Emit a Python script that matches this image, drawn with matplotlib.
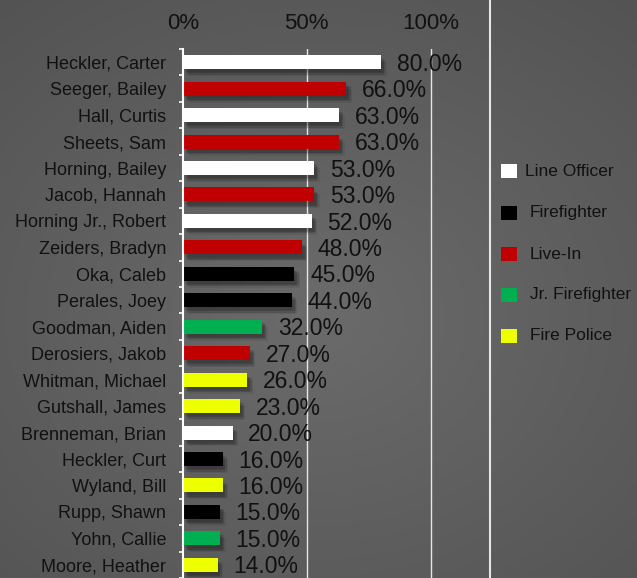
import numpy as np
import matplotlib.pyplot as plt
import matplotlib.patheffects as pe
from matplotlib.patches import Rectangle
from matplotlib.lines import Line2D

names = ["Heckler, Carter", "Seeger, Bailey", "Hall, Curtis", "Sheets, Sam",
         "Horning, Bailey", "Jacob, Hannah", "Horning Jr., Robert", "Zeiders, Bradyn",
         "Oka, Caleb", "Perales, Joey", "Goodman, Aiden", "Derosiers, Jakob",
         "Whitman, Michael", "Gutshall, James", "Brenneman, Brian", "Heckler, Curt",
         "Wyland, Bill", "Rupp, Shawn", "Yohn, Callie", "Moore, Heather"]
values = [80, 66, 63, 63, 53, 53, 52, 48, 45, 44, 32, 27, 26, 23, 20, 16, 16, 15, 15, 14]
roles = ["Line Officer", "Live-In", "Line Officer", "Live-In", "Line Officer", "Live-In",
         "Line Officer", "Live-In", "Firefighter", "Firefighter", "Jr. Firefighter",
         "Live-In", "Fire Police", "Fire Police", "Line Officer", "Firefighter",
         "Fire Police", "Firefighter", "Jr. Firefighter", "Fire Police"]
role_names = ["Line Officer", "Firefighter", "Live-In", "Jr. Firefighter", "Fire Police"]
role_colors = ["#ffffff", "#000000", "#c00000", "#00b050", "#eeff00"]
x_ticks = [0, 50, 100]

plt.rcParams['font.family'] = ['Liberation Sans', 'DejaVu Sans']
txt = "#111111"

fig = plt.figure(figsize=(6.37, 5.78), dpi=100)

# gray radial gradient background
bg = fig.add_axes([0, 0, 1, 1])
yy, xx = np.mgrid[0:1:300j, 0:1:300j]
r = np.sqrt((xx - 0.5) ** 2 + ((yy - 0.45) * 1.1) ** 2)
g = np.clip(0.42 - 0.12 * r, 0, 1)
bg.imshow(np.dstack([g, g, g]), extent=[0, 1, 0, 1], aspect="auto", origin="lower")
bg.set_axis_off()
bg.add_line(Line2D([490 / 637, 490 / 637], [0, 1], color="#e6e6e6", lw=1.5))

ax = fig.add_axes([183 / 637, 0, (490 - 183) / 637, 1 - 49 / 578])
ax.patch.set_alpha(0)
cmap = dict(zip(role_names, role_colors))
y = np.arange(len(names))
bars = ax.barh(y, values, height=0.53, color=[cmap[r] for r in roles], zorder=3)
shadow = [pe.SimplePatchShadow(offset=(dx, -dy), shadow_rgbFace="black", alpha=0.07)
          for dx, dy in [(1, 2), (2, 3), (3, 4), (2, 4), (3, 3), (4, 5)]]
for b in bars:
    b.set_path_effects(shadow + [pe.Normal()])
for yi, v in zip(y, values):
    ax.text(v + 6.3, yi + 0.08, f"{v:.1f}%", va="center", ha="left", fontsize=16.5, color=txt)

ax.set_ylim(len(names) - 0.5, -0.5)
ax.set_xlim(0, 124)
ax.set_xticks(x_ticks)
ax.set_xticklabels([f"{t}%" for t in x_ticks])
ax.xaxis.tick_top()
ax.tick_params(axis="x", length=0, pad=11, labelsize=16, labelcolor=txt)
ax.set_yticks(y)
ax.set_yticklabels(names)
ax.set_yticks(np.arange(-0.5, len(names), 1), minor=True)
ax.tick_params(axis="y", which="major", length=0, pad=12, labelsize=13, labelcolor=txt)
ax.tick_params(axis="y", which="minor", length=3, color="white", width=1.2)
for t in [50, 100]:
    ax.axvline(t, color="#e6e6e6", lw=1, zorder=1)
for s in ["top", "right", "bottom"]:
    ax.spines[s].set_visible(False)
ax.spines["left"].set_color("white")
ax.spines["left"].set_linewidth(1.5)
ax.spines["left"].set_zorder(4)

# legend
leg_y = [171, 213, 254, 295, 336]
leg_x = [525, 530, 530, 530, 530]
for name, col, ly, lx in zip(role_names, role_colors, leg_y, leg_x):
    fig.patches.append(Rectangle((501 / 637, 1 - (ly + 7) / 578), 16 / 637, 14 / 578,
                                 transform=fig.transFigure, facecolor=col, edgecolor="none"))
    fig.text(lx / 637, 1 - ly / 578, name, fontsize=12.5, color=txt, va="center", ha="left")

fig.savefig("out.png", dpi=100)
